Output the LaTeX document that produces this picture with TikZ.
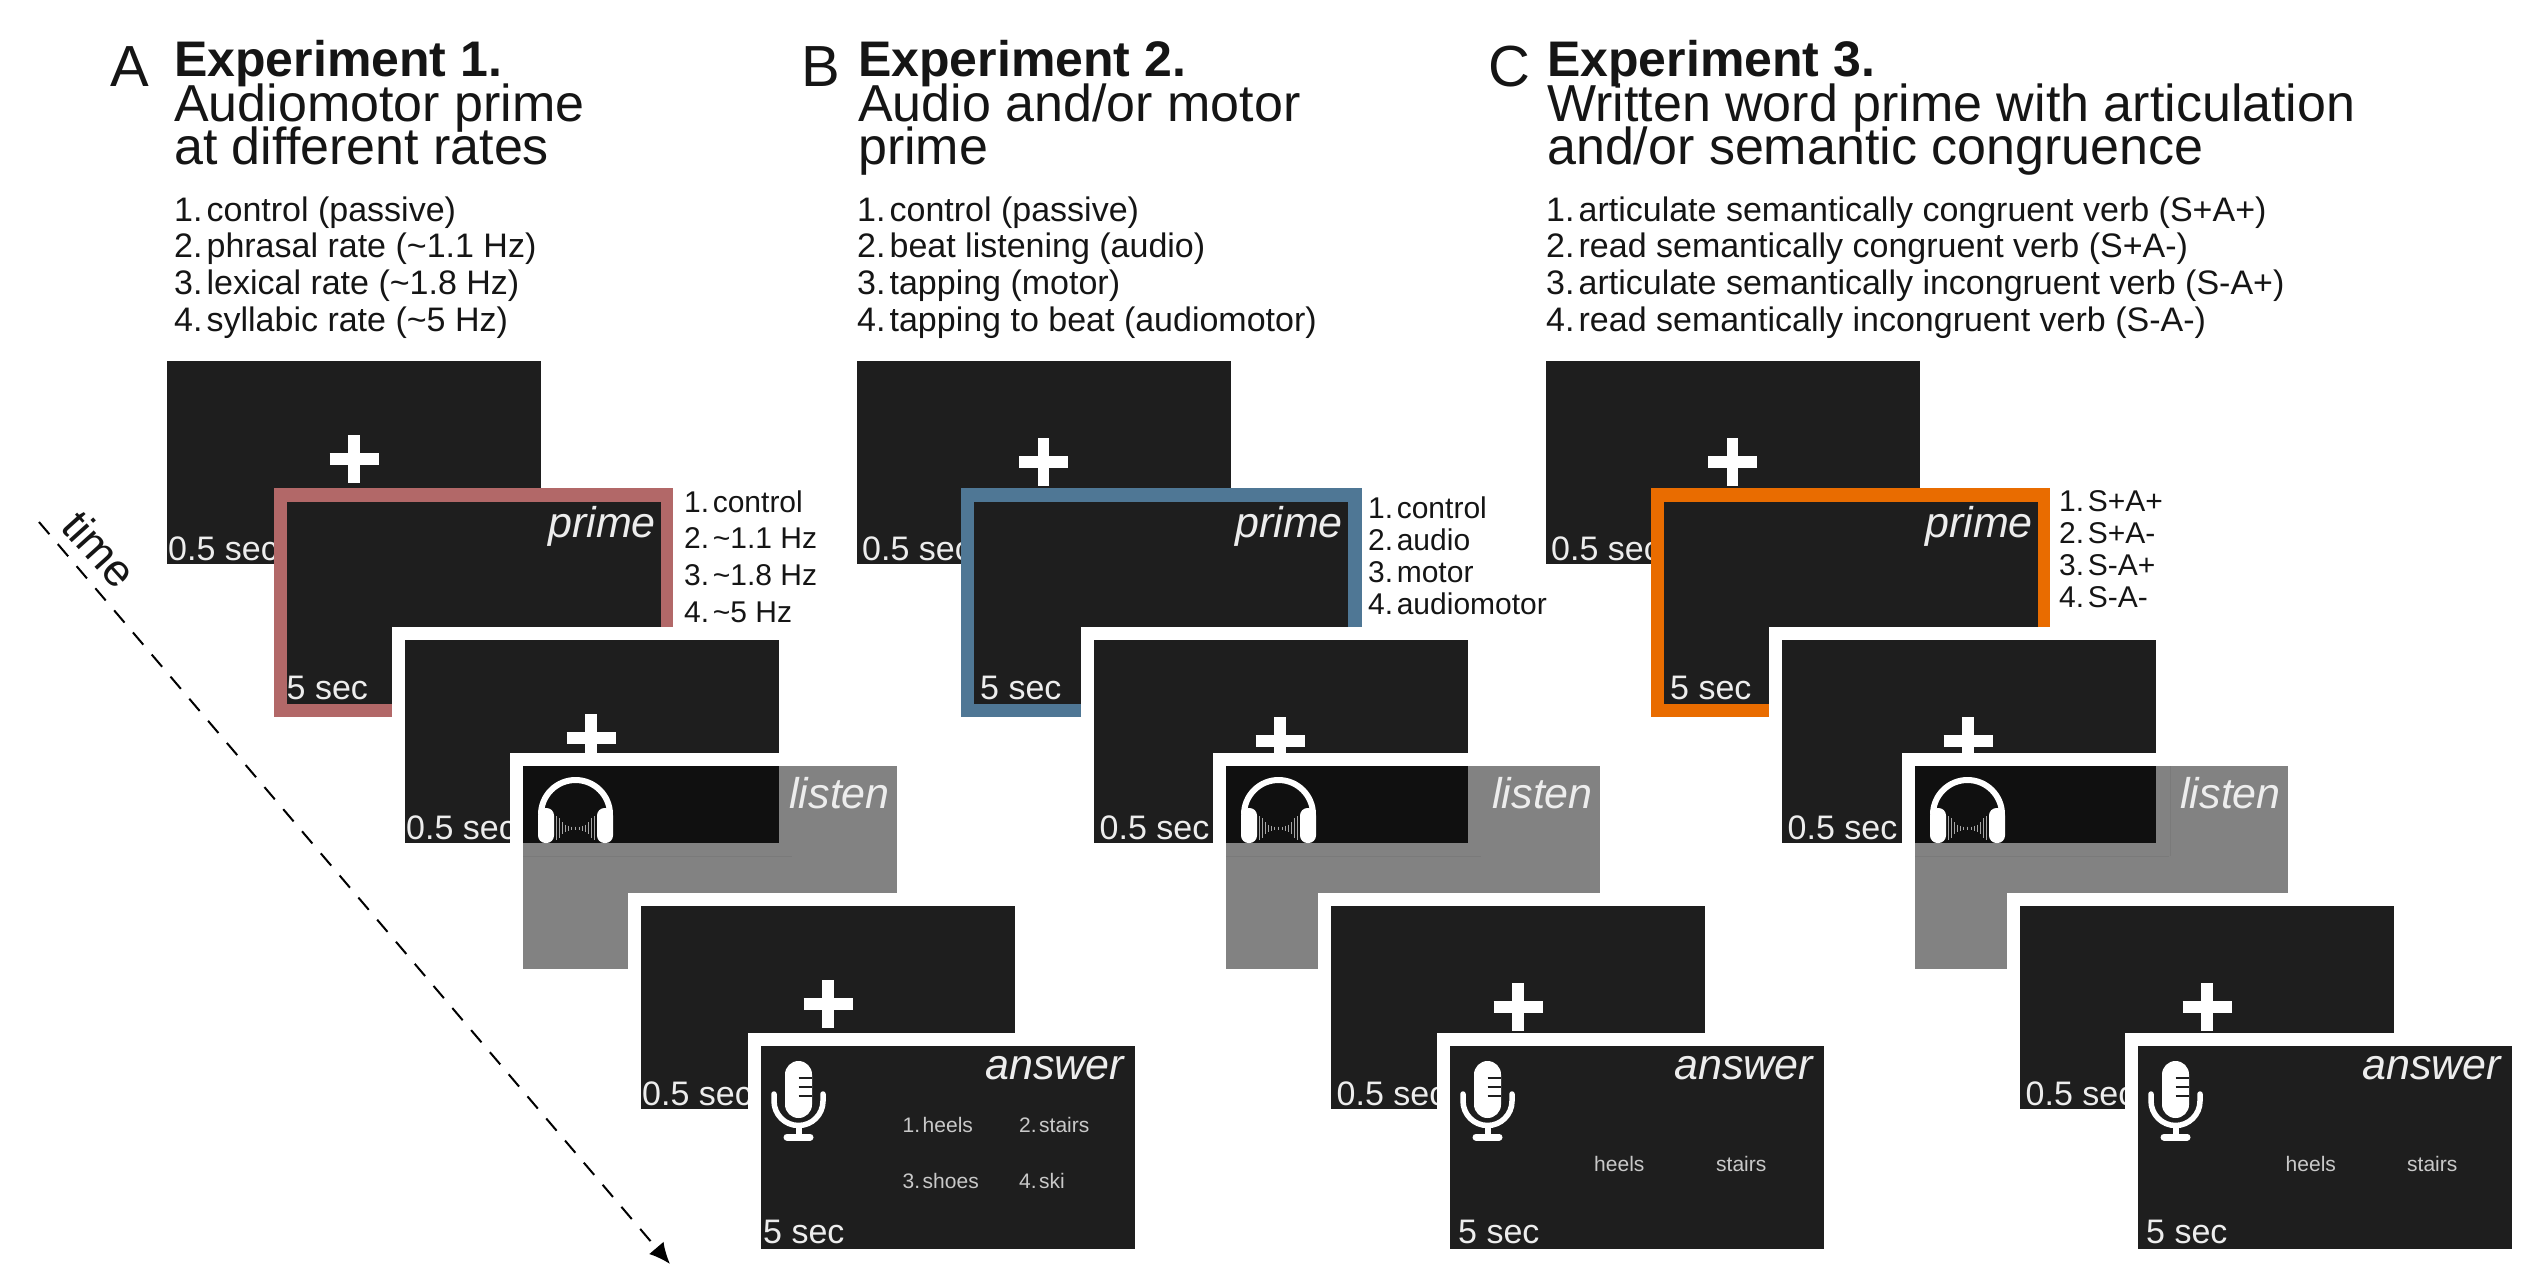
\documentclass[tikz,border=0pt]{standalone}
\usepackage{fontspec}
\setmainfont{Liberation Sans}
\usetikzlibrary{arrows.meta}

\definecolor{screenblack}{HTML}{1E1E1E}
\definecolor{overlapblack}{HTML}{101010}
\definecolor{listengray}{HTML}{828282}
\definecolor{faintgray}{HTML}{7A7A7A}
\definecolor{primeA}{HTML}{B26868}
\definecolor{primeB}{HTML}{4F7795}
\definecolor{primeC}{HTML}{E96C00}
\definecolor{inktext}{HTML}{151515}
\definecolor{screentext}{HTML}{EDEDED}

\tikzset{
  screen/.style={anchor=north west,inner sep=0pt,outer sep=0pt,fill=screenblack,minimum width=374pt,minimum height=203pt},
  halo/.style={preaction={draw=white,line width=26pt}},
  crossline/.style={white,line width=11.5pt},
  letter/.style={anchor=base west,inner sep=0pt,text=inktext,font=\fontsize{58}{60}\selectfont},
  headbold/.style={anchor=base west,inner sep=0pt,text=inktext,font=\fontsize{50}{54}\selectfont\bfseries},
  headline/.style={anchor=base west,inner sep=0pt,text=inktext,font=\fontsize{52}{54}\selectfont},
  listtext/.style={anchor=base west,inner sep=0pt,text=inktext,font=\fontsize{34}{36}\selectfont},
  sidetext/.style={anchor=base west,inner sep=0pt,text=inktext,font=\fontsize{30}{32}\selectfont},
  timetext/.style={anchor=base west,inner sep=0pt,text=screentext,font=\fontsize{34}{36}\selectfont},
  phasetext/.style={anchor=base east,inner sep=0pt,text=screentext,font=\fontsize{43}{46}\selectfont\itshape},
  wordtext/.style={anchor=base west,inner sep=0pt,text=screentext!85!black,font=\fontsize{21}{24}\selectfont},
}

\begin{document}
\begin{tikzpicture}[x=1pt,y=-1pt]

\newcommand\FIXCROSS[2]{\draw[crossline] ({#1-24.5},#2) -- ({#1+24.5},#2) (#1,{#2-24}) -- (#1,{#2+24});}
\newcommand\NS{\hspace{.12em}}

\useasboundingbox (0,0) rectangle (2531,1276);

%% time axis
\coordinate (timestart) at (39,522);
\coordinate (timeend) at (670,1264);
\draw[line width=2pt,dash pattern=on 16pt off 13pt,-{Latex[length=21pt,width=19pt]}] (timestart) -- (timeend);
\node[text=inktext,inner sep=0pt,rotate=-48,font=\fontsize{45}{46}\selectfont] (timelabel) at (100,549) {time};

%% the three stacks of screens
\foreach \P/\XF/\XP/\WP/\XS/\XL/\WL/\XT/\XN/\YC/\TI/\TP/\TA in {
  A/167/274/399/405/523/374/641/761/98/1/0/2,
  B/856.5/961/401/1094/1226/374/1331/1450/101/5.5/6.5/8,
  C/1545.5/1651/399/1782/1915/373/2020/2138/101/5.5/6.5/8}{

  % first fixation
  \node[screen] (fixone\P) at (\XF,361) {};
  \FIXCROSS{\XF+187}{361+\YC}
  \node[timetext] (fixonetime\P) at ({\XF+\TI},560) {0.5 sec};

  % prime
  \node[screen,fill=prime\P,minimum width=\WP pt,minimum height=229pt] (primeframe\P) at (\XP,488) {};
  \node[screen,minimum height=202pt] (prime\P) at ({\XP+12.5},502) {};
  \node[phasetext] (primelabel\P) at ({\XP+382},537) {prime};
  \node[timetext] (primetime\P) at ({\XP+12.5+\TP},699) {5 sec};

  % second fixation
  \node[screen,halo] (fixtwo\P) at (\XS,640) {};
  \FIXCROSS{\XS+186}{640+\YC}
  \node[timetext] (fixtwotime\P) at ({\XS+\TI},839) {0.5 sec};

  % listen
  \node[screen,halo,fill=listengray,minimum width=\WL pt] (listen\P) at (\XL,766) {};
  \draw[faintgray,line width=.8pt] (\XL,856) -- ({\XS+387},856);
  \node[screen,fill=overlapblack,minimum width={(\XS+374-\XL)*1pt},minimum height=77pt] (overlap\P) at (\XL,766) {};
  \begin{scope}[shift={(\XL,766)}]
    \draw[white,line width=6pt] (18,48.5) arc (180:360:34.5);
    \fill[white,rounded corners=7.5pt] (15,42) rectangle (31,77);
    \fill[white,rounded corners=7.5pt] (74,42) rectangle (90,77);
    \foreach \D/\H in {19/24,16/20,13/12,10/7,7/5,4/3,0/3}{
      \draw[gray!70,line width=1.2pt] ({52.5-\D},{62-\H/2}) -- ({52.5-\D},{62+\H/2});
      \draw[gray!70,line width=1.2pt] ({52.5+\D},{62-\H/2}) -- ({52.5+\D},{62+\H/2});
    }
  \end{scope}
  \node[phasetext] (listenlabel\P) at ({\XL+\WL-7},808) {listen};

  % third fixation
  \node[screen,halo] (fixthree\P) at (\XT,906) {};
  \FIXCROSS{\XT+187}{906+\YC}
  \node[timetext] (fixthreetime\P) at ({\XT+\TI},1105) {0.5 sec};

  % answer
  \node[screen,halo] (answer\P) at (\XN,1046) {};
  \begin{scope}[shift={(\XN,1046)}]
    \fill[white,rounded corners=13.5pt] (24,15) rectangle (51,72);
    \foreach \S in {32,41,50}{
      \draw[screenblack,line width=2.5pt] (37.5,\S) -- (51,\S);
    }
    \draw[white,line width=5.5pt,line cap=round] (13,48) -- (13,55) arc (180:0:24.5) -- (62,48);
    \draw[white,line width=6pt] (37.5,80) -- (37.5,90);
    \draw[white,line width=7pt,line cap=round] (26,91) -- (49,91);
  \end{scope}
  \node[phasetext] (answerlabel\P) at ({\XN+374-11},1079) {answer};
  \node[timetext] (answertime\P) at ({\XN+\TA},1243.5) {5 sec};
}
\draw[faintgray,line width=.8pt] (2170,766) -- (2170,856);

%% panel A
\node[letter] (letterA) at (110,87) {A};
\node[headbold] (headA) at (174,77) {Experiment 1.};
\node[headline] (subA) at (174,121.5) {Audiomotor prime};
\node[headline] (subAb) at (174,165) {at different rates};
\foreach \i/\t in {0/{1.\NS control (passive)},1/{2.\NS phrasal rate (\textasciitilde1.1 Hz)},2/{3.\NS lexical rate (\textasciitilde1.8 Hz)},3/{4.\NS syllabic rate (\textasciitilde5 Hz)}}{
  \node[listtext] (listA\i) at (174,{221+\i*36.7}) {\t};
}
\foreach \i/\t in {0/{1.\NS control},1/{2.\NS\textasciitilde1.1 Hz},2/{3.\NS\textasciitilde1.8 Hz},3/{4.\NS\textasciitilde5 Hz}}{
  \node[sidetext] (sideA\i) at (684,{512+\i*36.7}) {\t};
}
\node[wordtext] (wordAa) at (902.5,1132) {1.\NS heels};
\node[wordtext] (wordAb) at (1019,1132) {2.\NS stairs};
\node[wordtext] (wordAc) at (902.5,1188) {3.\NS shoes};
\node[wordtext] (wordAd) at (1019,1188) {4.\NS ski};

%% panel B
\node[letter] (letterB) at (801,87) {B};
\node[headbold] (headB) at (858,77) {Experiment 2.};
\node[headline] (subB) at (858,121.5) {Audio and/or motor};
\node[headline] (subBb) at (858,165) {prime};
\foreach \i/\t in {0/{1.\NS control (passive)},1/{2.\NS beat listening (audio)},2/{3.\NS tapping (motor)},3/{4.\NS tapping to beat (audiomotor)}}{
  \node[listtext] (listB\i) at (857,{221+\i*36.7}) {\t};
}
\foreach \i/\t in {0/{1.\NS control},1/{2.\NS audio},2/{3.\NS motor},3/{4.\NS audiomotor}}{
  \node[sidetext] (sideB\i) at (1368,{518+\i*32}) {\t};
}
\node[wordtext] (wordBa) at (1594,1171) {heels};
\node[wordtext] (wordBb) at (1716,1171) {stairs};

%% panel C
\node[letter] (letterC) at (1488,87) {C};
\node[headbold] (headC) at (1547,77) {Experiment 3.};
\node[headline] (subC) at (1547,121.5) {Written word prime with articulation};
\node[headline] (subCb) at (1547,165) {and/or semantic congruence};
\foreach \i/\t in {0/{1.\NS articulate semantically congruent verb (S+A+)},1/{2.\NS read semantically congruent verb (S+A-)},2/{3.\NS articulate semantically incongruent verb (S-A+)},3/{4.\NS read semantically incongruent verb (S-A-)}}{
  \node[listtext] (listC\i) at (1546,{221+\i*36.7}) {\t};
}
\foreach \i/\t in {0/{1.\NS S+A+},1/{2.\NS S+A-},2/{3.\NS S-A+},3/{4.\NS S-A-}}{
  \node[sidetext] (sideC\i) at (2059,{511+\i*32}) {\t};
}
\node[wordtext] (wordCa) at (2285.5,1171) {heels};
\node[wordtext] (wordCb) at (2407,1171) {stairs};

\end{tikzpicture}
\end{document}
